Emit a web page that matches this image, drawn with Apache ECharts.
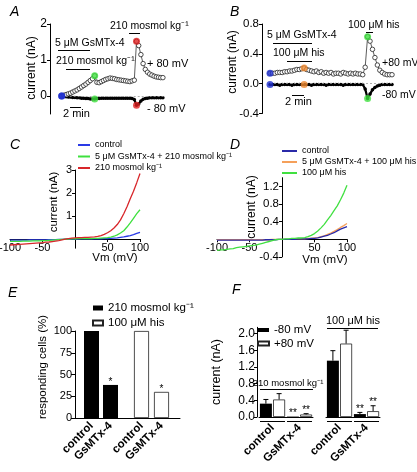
<!DOCTYPE html>
<html><head><meta charset="utf-8">
<script src="https://cdn.jsdelivr.net/npm/echarts@6/dist/echarts.min.js"></script>
<style>html,body{margin:0;padding:0;background:#fff}#c{width:417px;height:472px}</style>
</head><body><div id="c"></div>
<script>
const FONT = '"Liberation Sans", Arial, Helvetica, sans-serif';

// ---------- Panel A (time course, 210 mosmol) ----------
const A_STEP = 0.4; // minutes between samples
const A_p80 = [0.00,0.02,0.04,0.06,0.08,0.11,0.14,0.17,0.21,0.25,0.29,0.33,0.38,0.43,0.48,0.56,
  0.38,0.37,0.40,0.43,0.46,0.48,0.50,0.49,0.48,0.46,0.45,0.44,0.43,0.42,0.41,0.40,0.42,0.44,
  1.52,1.40,1.15,0.90,0.74,0.66,0.61,0.58,0.55,0.53,0.52,0.51,0.51];
const A_m80 = [0.00,-0.01,-0.02,-0.03,-0.03,-0.04,-0.04,-0.05,-0.05,-0.06,-0.06,-0.07,-0.07,-0.08,-0.08,-0.08,
  -0.07,-0.07,-0.06,-0.06,-0.06,-0.06,-0.06,-0.06,-0.06,-0.06,-0.06,-0.06,-0.06,-0.06,-0.06,-0.06,-0.07,-0.10,
  -0.26,-0.22,-0.14,-0.09,-0.07,-0.06,-0.05,-0.05,-0.05,-0.05,-0.05,-0.05,-0.05];
const A_markIdx = [0, 15, 34];
const A_markColors = ['#1f2fd0', '#3ee03e', '#e02020'];

// ---------- Panel B (time course, histamine) ----------
const B_STEP = 0.4;
const B_p80 = [0.14,0.14,0.14,0.15,0.15,0.15,0.16,0.16,0.17,0.17,0.18,0.19,0.19,0.20,0.21,
  0.19,0.18,0.17,0.16,0.17,0.15,0.16,0.14,0.15,0.14,0.15,0.13,0.14,0.14,0.13,0.15,0.14,0.13,0.14,0.13,0.14,0.13,0.13,0.12,
  0.22,0.63,0.57,0.46,0.35,0.25,0.18,0.15,0.13,0.12,0.12,0.12];
const B_m80 = [-0.01,-0.01,-0.01,-0.01,-0.02,-0.01,-0.01,-0.01,-0.01,-0.02,-0.01,-0.01,-0.01,-0.01,-0.01,
  -0.01,-0.01,-0.02,-0.01,-0.01,-0.01,-0.01,-0.01,-0.02,-0.01,-0.01,-0.01,-0.01,-0.01,-0.01,-0.02,-0.01,-0.01,-0.01,-0.01,-0.01,-0.01,-0.01,-0.01,
  -0.07,-0.20,-0.14,-0.08,-0.05,-0.03,-0.02,-0.01,-0.01,-0.01,-0.01,-0.01];
const B_markIdx = [0, 14, 40];
const B_markColors = ['#1f2fd0', '#f08a30', '#3ee03e'];

// ---------- Panels C & D (I-V curves) ----------
const VM = [-100,-95,-90,-85,-80,-75,-70,-65,-60,-55,-50,-45,-40,-35,-30,-25,-20,-15,-10,-5,0,5,10,15,20,25,30,35,40,45,50,55,60,65,70,75,80,85,90,95,100];
const C_control = [-0.05,-0.05,-0.05,-0.05,-0.05,-0.05,-0.04,-0.04,-0.04,-0.04,
  -0.04,-0.04,-0.03,-0.03,-0.03,-0.02,-0.02,-0.01,-0.01,0.00,
  0.00,0.00,0.01,0.01,0.01,0.01,0.01,0.01,0.01,0.02,
  0.02,0.03,0.04,0.05,0.07,0.09,0.12,0.15,0.19,0.24,0.29];
const C_gsmtx = [-0.10,-0.10,-0.10,-0.10,-0.09,-0.09,-0.09,-0.08,-0.08,-0.08,
  -0.07,-0.07,-0.06,-0.05,-0.04,-0.03,-0.02,-0.01,0.00,0.01,
  0.01,0.02,0.02,0.02,0.02,0.02,0.03,0.03,0.04,0.05,
  0.06,0.08,0.12,0.18,0.26,0.36,0.52,0.70,0.90,1.10,1.27];
const C_osm = [-0.26,-0.25,-0.24,-0.23,-0.22,-0.21,-0.20,-0.19,-0.18,-0.17,
  -0.16,-0.14,-0.13,-0.11,-0.09,-0.07,-0.04,-0.01,0.02,0.04,
  0.05,0.06,0.06,0.07,0.07,0.08,0.09,0.11,0.15,0.20,
  0.27,0.36,0.48,0.63,0.83,1.10,1.40,1.75,2.08,2.45,2.85];
const D_control = [-0.02,-0.02,-0.02,-0.02,-0.02,-0.02,-0.02,-0.02,-0.02,-0.02,
  -0.02,-0.02,-0.02,-0.02,-0.02,-0.01,-0.01,-0.01,-0.01,0.00,
  0.00,0.00,0.00,0.00,0.00,0.01,0.01,0.01,0.01,0.02,
  0.02,0.03,0.05,0.07,0.09,0.12,0.15,0.19,0.23,0.26,0.29];
const D_gsmtx = [-0.01,-0.01,-0.01,-0.01,-0.01,-0.01,-0.01,-0.01,-0.01,-0.01,
  -0.01,-0.01,-0.01,-0.01,-0.01,-0.01,-0.01,0.00,0.00,0.00,
  0.00,0.00,0.00,0.00,0.01,0.01,0.01,0.01,0.02,0.02,
  0.03,0.04,0.06,0.08,0.11,0.14,0.18,0.22,0.27,0.31,0.36];
const D_his = [-0.25,-0.24,-0.24,-0.23,-0.22,-0.21,-0.19,-0.18,-0.17,-0.16,
  -0.15,-0.14,-0.13,-0.11,-0.09,-0.07,-0.05,-0.03,-0.01,0.00,
  0.00,0.01,0.01,0.02,0.02,0.03,0.03,0.04,0.06,0.09,
  0.13,0.19,0.26,0.34,0.44,0.54,0.65,0.76,0.90,1.05,1.23];

// ---------- Panel E (responding cells %) ----------
const E_cats = ['control', 'GsMTx-4'];
const E_osm = [100, 38];
const E_his = [100, 30];
const E_sig = ['', '*'];

// ---------- Panel F (current, nA) ----------
const F_cats = ['control', 'GsMTx-4'];
const F_osm_m80 = [0.32, 0.01], F_osm_m80_err = [0.10, 0.00];
const F_osm_p80 = [0.42, 0.06], F_osm_p80_err = [0.14, 0.02];
const F_his_m80 = [1.35, 0.07], F_his_m80_err = [0.24, 0.04];
const F_his_p80 = [1.76, 0.14], F_his_p80_err = [0.32, 0.13];
const F_sig = ['', '**'];

// ---------- helpers ----------
function merge(a, b) {
  const out = Array.isArray(a) ? a.slice() : Object.assign({}, a);
  for (const k in b) {
    if (b[k] && typeof b[k] === 'object' && !Array.isArray(b[k]) && a[k] && typeof a[k] === 'object') out[k] = merge(a[k], b[k]);
    else out[k] = b[k];
  }
  return out;
}
const BLACK = {color: '#000', width: 1};
function axis(o) {
  return merge({
    splitLine: {show: false},
    axisLine: {show: true, onZero: false, lineStyle: BLACK},
    axisTick: {show: true, length: 3, lineStyle: BLACK},
    axisLabel: {color: '#000', fontSize: 11, fontFamily: FONT, margin: 3}
  }, o);
}
function hidden(o) { return merge({show: false, splitLine: {show: false}}, o); }
const name = n => n.split('|')[1];

function T(x, y, text, o) {
  o = o || {};
  return {type: 'text', x: x, y: y, rotation: o.rot || 0, silent: true, z: 50,
    style: {text: text, x: 0, y: 0, fill: '#000', fontFamily: FONT, fontSize: o.size || 11,
      fontStyle: o.italic ? 'italic' : 'normal', fontWeight: o.bold ? 'bold' : 'normal',
      align: o.align || 'left', textAlign: o.align || 'left',
      verticalAlign: 'middle', textVerticalAlign: 'middle'}};
}
function L(x1, y1, x2, y2) {
  return {type: 'line', silent: true, z: 50, shape: {x1, y1, x2, y2}, style: {stroke: '#000', lineWidth: 1}};
}

function traceSeries(ax, step, vals, filled) {
  return {type: 'line', xAxisIndex: ax, yAxisIndex: ax, clip: false, z: filled ? 2 : 3,
    data: vals.map((v, i) => [i * step, v]),
    symbol: 'circle', showSymbol: true, showAllSymbol: true,
    symbolSize: filled ? 3.5 : 4.5,
    lineStyle: filled ? {color: '#000', width: 2.2} : {color: '#333', width: 0.8},
    itemStyle: filled ? {color: '#000'} : {color: '#fff', borderColor: '#222', borderWidth: 0.8}
  };
}
function markSeries(ax, step, p80, m80, idx, colors) {
  const data = [];
  idx.forEach((k, j) => {
    data.push({value: [k * step, p80[k]], itemStyle: {color: colors[j]}});
    data.push({value: [k * step, m80[k]], itemStyle: {color: colors[j]}});
  });
  return {type: 'scatter', xAxisIndex: ax, yAxisIndex: ax, clip: false, z: 5, symbolSize: 7, data: data};
}
function ivSeries(ax, nm, vals, color) {
  return {type: 'line', name: nm, xAxisIndex: ax, yAxisIndex: ax, showSymbol: false, symbol: 'none',
    data: vals.map((v, i) => [VM[i], v]), color: color,
    lineStyle: {color: color, width: 1.3}, itemStyle: {color: color}};
}
function barSeries(ax, nm, vals, white, w) {
  return {type: 'bar', name: nm, xAxisIndex: ax, yAxisIndex: ax, data: vals, barWidth: w, barGap: '10%',
    itemStyle: white ? {color: '#fff', borderColor: '#222', borderWidth: 0.8} : {color: '#000'}};
}
function annotSeries(ax, vals, errs, sig, side, barW, fs, under) {
  return {type: 'custom', xAxisIndex: ax, yAxisIndex: ax, silent: true, clip: false, z: 10,
    data: vals.map((v, i) => [i, v, errs ? errs[i] : 0]),
    renderItem: function (params, api) {
      const i = api.value(0), v = api.value(1), e = api.value(2);
      const c = api.coord([i, v]);
      const t = api.coord([i, v + e]);
      const z0 = api.coord([i, 0]);
      const x = c[0] + side * barW * 1.1 / 2;
      const ch = [];
      if (e > 0) {
        ch.push({type: 'line', shape: {x1: x, y1: c[1], x2: x, y2: t[1]}, style: {stroke: '#000', lineWidth: 1}});
        ch.push({type: 'line', shape: {x1: x - 2.5, y1: t[1], x2: x + 2.5, y2: t[1]}, style: {stroke: '#000', lineWidth: 1}});
      }
      if (sig[i]) ch.push({type: 'text', x: x, y: t[1] + 2, style: {text: sig[i], fontSize: fs, fontFamily: FONT, fill: '#000', align: 'center', verticalAlign: 'bottom'}});
      if (under) {
        const bw = api.size([1, 0])[0];
        ch.push({type: 'line', shape: {x1: z0[0] - bw / 2 + 1, y1: z0[1] + 4.5, x2: z0[0] + bw / 2 - 1, y2: z0[1] + 4.5}, style: {stroke: '#000', lineWidth: 1}});
      }
      return {type: 'group', children: ch};
    }
  };
}

const G = o => Object.assign({outerBoundsMode: 'none', containLabel: false}, o);

const catLabel = {rotate: 45, fontWeight: 'bold', fontSize: 11.5, margin: 6, interval: 0, color: '#000', fontFamily: FONT};

const option = {
  animation: false,
  backgroundColor: '#fff',
  textStyle: {fontFamily: FONT, color: '#000'},
  grid: [
    G({left: 61.7, top: 24, width: 101.75, height: 90}),   // A
    G({left: 270, top: 24, width: 122, height: 89.5}),      // B
    G({left: 10, top: 170, width: 130, height: 78.2}),      // C
    G({left: 217, top: 177.7, width: 130, height: 79.2}),   // D
    G({left: 75, top: 331, width: 105, height: 87}),        // E axes
    G({left: 82, top: 331, width: 38, height: 87}),         // E osm bars
    G({left: 131.5, top: 331, width: 40, height: 87}),      // E his bars
    G({left: 259, top: 327.3, width: 54, height: 89.7}),    // F osm
    G({left: 326, top: 327.3, width: 54, height: 89.7})     // F his
  ],
  xAxis: [
    hidden({gridIndex: 0, type: 'value', min: 0, max: 18.5}),
    hidden({gridIndex: 1, type: 'value', min: 0, max: 20}),
    axis({gridIndex: 2, type: 'value', min: -100, max: 100, offset: -9.2,
      axisTick: {customValues: [-100, -50, 50, 100]}, axisLabel: {customValues: [-100, -50, 50, 100], fontSize: 11}}),
    axis({gridIndex: 3, type: 'value', min: -100, max: 100, offset: -17.6,
      axisTick: {customValues: [-100, -50, 50, 100]}, axisLabel: {customValues: [-100, -50, 50, 100], fontSize: 11}}),
    axis({gridIndex: 4, type: 'value', min: 0, max: 1, axisTick: {show: false}, axisLabel: {show: false}}),
    {gridIndex: 5, type: 'category', data: E_cats, axisLine: {show: false}, axisTick: {show: false}, axisLabel: catLabel, splitLine: {show: false}},
    {gridIndex: 6, type: 'category', data: E_cats, axisLine: {show: false}, axisTick: {show: false}, axisLabel: catLabel, splitLine: {show: false}},
    {gridIndex: 7, type: 'category', data: F_cats, axisLine: {show: true, lineStyle: BLACK}, axisTick: {show: false}, axisLabel: merge(catLabel, {margin: 9}), splitLine: {show: false}},
    {gridIndex: 8, type: 'category', data: F_cats, axisLine: {show: true, lineStyle: BLACK}, axisTick: {show: false}, axisLabel: merge(catLabel, {margin: 9}), splitLine: {show: false}}
  ],
  yAxis: [
    axis({gridIndex: 0, type: 'value', min: -0.5, max: 2, offset: 11.7,
      axisTick: {customValues: [0, 1, 2]}, axisLabel: {customValues: [0, 1, 2], fontSize: 12}}),
    axis({gridIndex: 1, type: 'value', min: -0.4, max: 0.8, interval: 0.4, offset: 8,
      axisLabel: {fontSize: 11.5, formatter: v => v.toFixed(1)}}),
    axis({gridIndex: 2, type: 'value', min: -0.4, max: 3, offset: -65,
      axisTick: {customValues: [1, 2, 3]}, axisLabel: {customValues: [1, 2, 3], fontSize: 11}}),
    axis({gridIndex: 3, type: 'value', min: -0.4, max: 1.4, offset: -65,
      axisTick: {customValues: [-0.4, 0.4, 0.8, 1.2]}, axisLabel: {customValues: [-0.4, 0.4, 0.8, 1.2], fontSize: 11.5, formatter: v => v.toFixed(1)}}),
    axis({gridIndex: 4, type: 'value', min: 0, max: 100, interval: 25, axisTick: {length: 4}, axisLabel: {fontSize: 11}}),
    hidden({gridIndex: 5, type: 'value', min: 0, max: 100}),
    hidden({gridIndex: 6, type: 'value', min: 0, max: 100}),
    axis({gridIndex: 7, type: 'value', min: 0, max: 2.15, offset: 2,
      axisTick: {length: 3, customValues: [0, 0.4, 0.8, 1.2, 1.6, 2.0]},
      axisLabel: {customValues: [0, 0.4, 0.8, 1.2, 1.6, 2.0], fontSize: 12, margin: 2, formatter: v => v.toFixed(1)}}),
    hidden({gridIndex: 8, type: 'value', min: 0, max: 2.15})
  ],
  legend: [
    {left: 78, top: 139.5, orient: 'vertical', icon: 'rect', itemWidth: 12, itemHeight: 2, itemGap: 0.5, padding: 0,
      selectedMode: false, formatter: name, textStyle: {fontSize: 9, lineHeight: 11, color: '#000', fontFamily: FONT},
      data: ['C|control', 'C|5 μM GsMTx-4 + 210 mosmol kg⁻¹', 'C|210 mosmol kg⁻¹']},
    {left: 282, top: 145.5, orient: 'vertical', icon: 'rect', itemWidth: 15, itemHeight: 2, itemGap: 0, padding: 0,
      selectedMode: false, formatter: name, textStyle: {fontSize: 9, lineHeight: 11, color: '#000', fontFamily: FONT},
      data: ['D|control', 'D|5 μM GsMTx-4 + 100 μM his', 'D|100 μM his']},
    {left: 92, top: 301.5, orient: 'vertical', icon: 'rect', itemWidth: 10, itemHeight: 5, itemGap: 2, padding: 0,
      selectedMode: false, formatter: name, textStyle: {fontSize: 11.5, lineHeight: 13, color: '#000', fontFamily: FONT},
      data: ['E|210 mosmol kg⁻¹', 'E|100 μM his']},
    {left: 257, top: 323.5, orient: 'vertical', icon: 'rect', itemWidth: 11, itemHeight: 4, itemGap: 0.5, padding: 0,
      selectedMode: false, formatter: name, textStyle: {fontSize: 11.5, lineHeight: 13, color: '#000', fontFamily: FONT},
      data: ['F|-80 mV', 'F|+80 mV']}
  ],
  series: [
    // A
    merge(traceSeries(0, A_STEP, A_m80, true), {markLine: {silent: true, symbol: 'none', label: {show: false},
      lineStyle: {color: '#999', type: [2, 2], width: 0.8}, data: [{yAxis: 0}]}}),
    traceSeries(0, A_STEP, A_p80, false),
    markSeries(0, A_STEP, A_p80, A_m80, A_markIdx, A_markColors),
    // B
    merge(traceSeries(1, B_STEP, B_m80, true), {markLine: {silent: true, symbol: 'none', label: {show: false},
      lineStyle: {color: '#999', type: [2, 2], width: 0.8}, data: [{yAxis: 0}]}}),
    traceSeries(1, B_STEP, B_p80, false),
    markSeries(1, B_STEP, B_p80, B_m80, B_markIdx, B_markColors),
    // C
    ivSeries(2, 'C|control', C_control, '#2a3ae6'),
    ivSeries(2, 'C|5 μM GsMTx-4 + 210 mosmol kg⁻¹', C_gsmtx, '#3ee03e'),
    ivSeries(2, 'C|210 mosmol kg⁻¹', C_osm, '#d8262a'),
    // D
    ivSeries(3, 'D|5 μM GsMTx-4 + 100 μM his', D_gsmtx, '#f5a05a'),
    ivSeries(3, 'D|control', D_control, '#2a2aa8'),
    ivSeries(3, 'D|100 μM his', D_his, '#40e040'),
    // E
    barSeries(5, 'E|210 mosmol kg⁻¹', E_osm, false, 15),
    barSeries(6, 'E|100 μM his', E_his, true, 15),
    annotSeries(5, E_osm, null, E_sig, 0, 15, 10, false),
    annotSeries(6, E_his, null, E_sig, 0, 15, 10, false),
    // F
    barSeries(7, 'F|-80 mV', F_osm_m80, false, 12),
    barSeries(7, 'F|+80 mV', F_osm_p80, true, 12),
    barSeries(8, 'F|-80 mV', F_his_m80, false, 12),
    barSeries(8, 'F|+80 mV', F_his_p80, true, 12),
    annotSeries(7, F_osm_m80, F_osm_m80_err, F_sig, -1, 12, 10, true),
    annotSeries(7, F_osm_p80, F_osm_p80_err, F_sig, 1, 12, 10, false),
    annotSeries(8, F_his_m80, F_his_m80_err, F_sig, -1, 12, 10, true),
    annotSeries(8, F_his_p80, F_his_p80_err, F_sig, 1, 12, 10, false)
  ],
  graphic: {elements: [
    // panel letters
    T(10, 12, 'A', {italic: true, size: 14}), T(230, 12, 'B', {italic: true, size: 14}),
    T(10, 145, 'C', {italic: true, size: 14}), T(230, 145, 'D', {italic: true, size: 14}),
    T(8, 293, 'E', {italic: true, size: 14}), T(232, 290, 'F', {italic: true, size: 14}),
    // A annotations
    T(32, 68, 'current (nA)', {rot: Math.PI / 2, align: 'center', size: 12}),
    T(110, 26, '210 mosmol kg⁻¹', {size: 10.5}), L(129, 33.5, 140, 33.5),
    T(55, 43, '5 μM GsMTx-4', {size: 10.5}), L(58, 50.5, 90, 50.5),
    T(56, 61, '210 mosmol kg⁻¹', {size: 10.5}), L(66, 69.5, 90, 69.5),
    T(147, 64, '+ 80 mV', {size: 11}), T(147, 109, '- 80 mV', {size: 11}),
    L(70, 107.5, 81, 107.5), T(63, 114, '2 min', {size: 11}),
    // B annotations
    T(233, 62, 'current (nA)', {rot: Math.PI / 2, align: 'center', size: 12}),
    T(348, 25, '100 μM his', {size: 10.5}), L(366, 32.5, 373, 32.5),
    T(267, 35, '5 μM GsMTx-4', {size: 10.5}), L(273, 43.5, 312, 43.5),
    T(273, 53, '100 μM his', {size: 10.5}), L(287, 61.5, 312, 61.5),
    T(382, 63, '+80 mV', {size: 10.5}), T(382, 95, '-80 mV', {size: 10.5}),
    L(292, 95.5, 304, 95.5), T(285, 101.5, '2 min', {size: 11}),
    // C, D axis names
    T(54, 202, 'current (nA)', {rot: Math.PI / 2, align: 'center', size: 11.5}),
    T(115, 258, 'Vm (mV)', {align: 'center', size: 11.5}),
    T(252, 207, 'current (nA)', {rot: Math.PI / 2, align: 'center', size: 12}),
    T(325, 260, 'Vm (mV)', {align: 'center', size: 11.5}),
    // E, F axis names
    T(43, 367, 'responding cells (%)', {rot: Math.PI / 2, align: 'center', size: 11.5}),
    T(217, 372, 'current (nA)', {rot: Math.PI / 2, align: 'center', size: 12.5}),
    // F group labels
    T(288, 383, '210 mosmol kg⁻¹', {align: 'center', size: 9.5}), L(260, 389.5, 313, 389.5),
    T(353, 321, '100 μM his', {align: 'center', size: 11}), L(327, 328.5, 378, 328.5)
  ]}
};

const chart = echarts.init(document.getElementById('c'), null, {renderer: 'canvas'});
chart.setOption(option);
</script></body></html>
